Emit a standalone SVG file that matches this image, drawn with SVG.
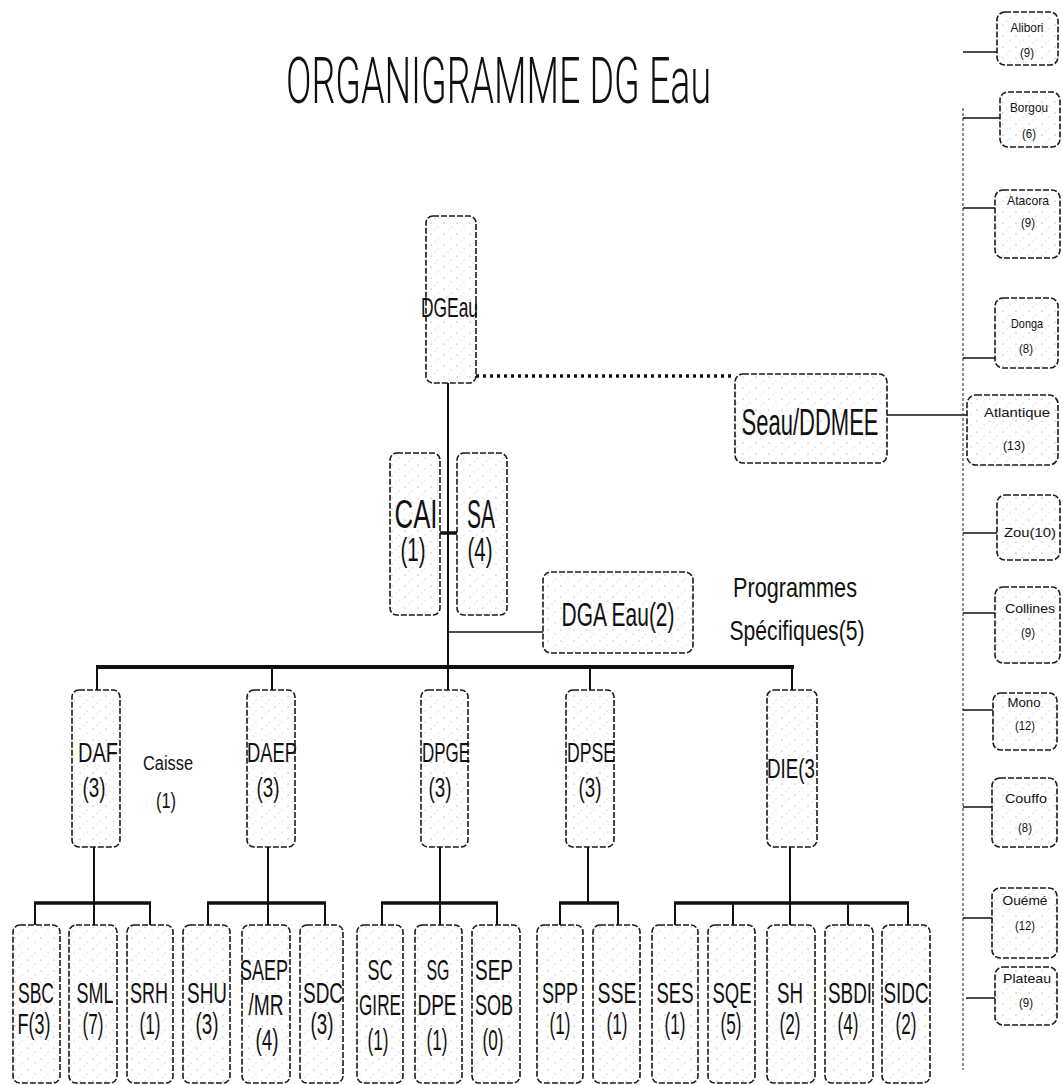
<svg xmlns="http://www.w3.org/2000/svg" width="1063" height="1085" viewBox="0 0 1063 1085">
<defs>
<pattern id="sp" width="13" height="11" patternUnits="userSpaceOnUse">
<rect width="13" height="11" fill="#fff"/>
<circle cx="2" cy="3" r="0.6" fill="#888"/>
<circle cx="9" cy="7" r="0.5" fill="#aaa"/>
<circle cx="6" cy="10" r="0.45" fill="#999"/>
</pattern>
<style>
.bx{fill:url(#sp);stroke:#1a1a1a;stroke-width:1.6;stroke-dasharray:6 2}
.t{font-family:"Liberation Sans",Arial,sans-serif;text-anchor:middle;fill:#111}
.ttl{font-family:Roboto,"Liberation Sans",Arial,sans-serif;font-weight:300;text-anchor:middle;fill:#111}
.ln{stroke:#111;stroke-width:2;fill:none}
.bus{stroke-width:4}
.sb{stroke-width:3.5}
.thin{stroke-width:1.2;stroke-dasharray:3 2;stroke:#444}
.dot{stroke:#111;stroke-width:3.5;stroke-dasharray:3 4;fill:none}
.s30{font-size:30px}
.s28{font-size:28px}
.s13{font-size:13px}
</style>
</defs>
<rect width="1063" height="1085" fill="#fff"/>
<text class="ttl" x="498.5" y="103" font-size="64" textLength="425" lengthAdjust="spacingAndGlyphs">ORGANIGRAMME DG Eau</text>

<g id="connectors">
<line class="dot" x1="476" y1="376" x2="735" y2="376"/>
<line class="ln" x1="448" y1="383" x2="448" y2="667"/>
<line class="ln sb" x1="440" y1="533" x2="457" y2="533"/>
<line class="ln" style="stroke-width:1.5" x1="448" y1="632" x2="543" y2="632"/>
<line class="ln bus" x1="96" y1="667" x2="794" y2="667"/>
<polyline class="ln" points="97,667 97,690"/>
<polyline class="ln" points="272,667 272,690"/>
<polyline class="ln" points="590,667 590,690"/>
<polyline class="ln" points="792,667 792,690"/>
<line class="ln" x1="448" y1="667" x2="448" y2="690"/>
<line class="ln" x1="94" y1="847" x2="94" y2="903"/>
<line class="ln sb" x1="34" y1="903" x2="151" y2="903"/>
<polyline class="ln" points="35,903 35,925"/><polyline class="ln" points="94,903 94,925"/><polyline class="ln" points="150,903 150,925"/>
<line class="ln" x1="268" y1="847" x2="268" y2="903"/>
<line class="ln sb" x1="207" y1="903" x2="326" y2="903"/>
<polyline class="ln" points="208,903 208,925"/><polyline class="ln" points="268,903 268,925"/><polyline class="ln" points="325,903 325,925"/>
<line class="ln" x1="440" y1="847" x2="440" y2="903"/>
<line class="ln sb" x1="381" y1="903" x2="498" y2="903"/>
<polyline class="ln" points="382,903 382,925"/><polyline class="ln" points="440,903 440,925"/><polyline class="ln" points="497,903 497,925"/>
<line class="ln" x1="588" y1="847" x2="588" y2="903"/>
<line class="ln sb" x1="559" y1="903" x2="619" y2="903"/>
<polyline class="ln" points="560,903 560,925"/><polyline class="ln" points="618,903 618,925"/>
<line class="ln" x1="790" y1="847" x2="790" y2="903"/>
<line class="ln sb" x1="674" y1="903" x2="909" y2="903"/>
<polyline class="ln" points="675,903 675,925"/><polyline class="ln" points="733,903 733,925"/><polyline class="ln" points="790,903 790,925"/><polyline class="ln" points="848,903 848,925"/><polyline class="ln" points="908,903 908,925"/>
<line class="ln" style="stroke-width:1.5" x1="887" y1="415" x2="967" y2="415"/>
<line class="thin" x1="963" y1="108" x2="963" y2="1070"/>
<line class="ln" style="stroke-width:1.5" x1="963" y1="52" x2="997" y2="52"/>
<line class="ln" style="stroke-width:1.5" x1="963" y1="118" x2="1000" y2="118"/>
<line class="ln" style="stroke-width:1.5" x1="963" y1="208" x2="995" y2="208"/>
<line class="ln" style="stroke-width:1.5" x1="963" y1="358" x2="995" y2="358"/>
<line class="ln" style="stroke-width:1.5" x1="963" y1="533" x2="997" y2="533"/>
<line class="ln" style="stroke-width:1.5" x1="963" y1="613" x2="995" y2="613"/>
<line class="ln" style="stroke-width:1.5" x1="963" y1="710" x2="993" y2="710"/>
<line class="ln" style="stroke-width:1.5" x1="963" y1="807" x2="992" y2="807"/>
<line class="ln" style="stroke-width:1.5" x1="963" y1="918" x2="992" y2="918"/>
<line class="ln" style="stroke-width:1.5" x1="966" y1="998" x2="995" y2="998"/>
</g>

<g id="DGEau"><rect class="bx" x="426" y="216" width="50" height="167" rx="7"/><text class="t s28" x="449.5" y="317" textLength="57" lengthAdjust="spacingAndGlyphs">DGEau</text></g>
<g id="SeauDDMEE"><rect class="bx" x="735" y="374" width="152" height="89" rx="8"/><text class="t" font-size="37" x="810" y="435" textLength="137" lengthAdjust="spacingAndGlyphs">Seau/DDMEE</text></g>
<g id="CAI"><rect class="bx" x="390" y="453" width="50" height="162" rx="7"/><text class="t" font-size="40" x="416" y="528" textLength="43" lengthAdjust="spacingAndGlyphs">CAI</text><text class="t" font-size="34" x="413" y="561" textLength="25" lengthAdjust="spacingAndGlyphs">(1)</text></g>
<g id="SA"><rect class="bx" x="457" y="453" width="50" height="162" rx="7"/><text class="t" font-size="40" x="481" y="528" textLength="28" lengthAdjust="spacingAndGlyphs">SA</text><text class="t" font-size="34" x="480" y="561" textLength="25" lengthAdjust="spacingAndGlyphs">(4)</text></g>
<g id="DGAEau"><rect class="bx" x="543" y="572" width="150" height="81" rx="8"/><text class="t" font-size="33" x="618" y="626" textLength="113" lengthAdjust="spacingAndGlyphs">DGA Eau(2)</text></g>
<g id="Programmes"><text class="t s28" x="795" y="597" textLength="124" lengthAdjust="spacingAndGlyphs">Programmes</text><text class="t s28" x="797" y="640" textLength="135" lengthAdjust="spacingAndGlyphs">Spécifiques(5)</text></g>

<g id="DAF"><rect class="bx" x="72" y="690" width="48" height="157" rx="7"/><text class="t s28" x="98" y="762" textLength="40" lengthAdjust="spacingAndGlyphs">DAF</text><text class="t s28" x="94" y="797" textLength="23" lengthAdjust="spacingAndGlyphs">(3)</text></g>
<g id="Caisse"><text class="t" font-size="20" x="168" y="770" textLength="50" lengthAdjust="spacingAndGlyphs">Caisse</text><text class="t" font-size="22" x="166" y="808" textLength="20" lengthAdjust="spacingAndGlyphs">(1)</text></g>
<g id="DAEP"><rect class="bx" x="247" y="690" width="48" height="157" rx="7"/><text class="t s28" x="272" y="762" textLength="50" lengthAdjust="spacingAndGlyphs">DAEP</text><text class="t s28" x="268" y="797" textLength="23" lengthAdjust="spacingAndGlyphs">(3)</text></g>
<g id="DPGE"><rect class="bx" x="421" y="690" width="47" height="157" rx="7"/><text class="t s28" x="446" y="762" textLength="48" lengthAdjust="spacingAndGlyphs">DPGE</text><text class="t s28" x="440" y="797" textLength="23" lengthAdjust="spacingAndGlyphs">(3)</text></g>
<g id="DPSE"><rect class="bx" x="566" y="690" width="48" height="157" rx="7"/><text class="t s28" x="591" y="762" textLength="48" lengthAdjust="spacingAndGlyphs">DPSE</text><text class="t s28" x="590" y="797" textLength="23" lengthAdjust="spacingAndGlyphs">(3)</text></g>
<g id="DIE"><rect class="bx" x="767" y="690" width="50" height="157" rx="7"/><text class="t s28" x="791" y="778" textLength="48" lengthAdjust="spacingAndGlyphs">DIE(3</text></g>

<g id="SBCF"><rect class="bx" x="13" y="925" width="47" height="158" rx="7"/><text class="t s30" x="36" y="1003" textLength="36" lengthAdjust="spacingAndGlyphs">SBC</text><text class="t s30" x="34" y="1034" textLength="33" lengthAdjust="spacingAndGlyphs">F(3)</text></g>
<g id="SML"><rect class="bx" x="69" y="925" width="48" height="158" rx="7"/><text class="t s30" x="95" y="1003" textLength="37" lengthAdjust="spacingAndGlyphs">SML</text><text class="t s30" x="93" y="1034" textLength="21" lengthAdjust="spacingAndGlyphs">(7)</text></g>
<g id="SRH"><rect class="bx" x="127" y="925" width="46" height="158" rx="7"/><text class="t s30" x="149" y="1003" textLength="38" lengthAdjust="spacingAndGlyphs">SRH</text><text class="t s30" x="150" y="1034" textLength="21" lengthAdjust="spacingAndGlyphs">(1)</text></g>
<g id="SHU"><rect class="bx" x="183" y="925" width="47" height="158" rx="7"/><text class="t s30" x="207" y="1003" textLength="40" lengthAdjust="spacingAndGlyphs">SHU</text><text class="t s30" x="207" y="1034" textLength="23" lengthAdjust="spacingAndGlyphs">(3)</text></g>
<g id="SAEPMR"><rect class="bx" x="242" y="925" width="48" height="158" rx="7"/><text class="t s30" x="264" y="980" textLength="48" lengthAdjust="spacingAndGlyphs">SAEP</text><text class="t s30" x="266" y="1015" textLength="35" lengthAdjust="spacingAndGlyphs">/MR</text><text class="t s30" x="267" y="1050" textLength="23" lengthAdjust="spacingAndGlyphs">(4)</text></g>
<g id="SDC"><rect class="bx" x="300" y="925" width="43" height="158" rx="7"/><text class="t s30" x="323" y="1003" textLength="40" lengthAdjust="spacingAndGlyphs">SDC</text><text class="t s30" x="322" y="1034" textLength="23" lengthAdjust="spacingAndGlyphs">(3)</text></g>
<g id="SCGIRE"><rect class="bx" x="357" y="925" width="46" height="158" rx="7"/><text class="t s30" x="380" y="980" textLength="25" lengthAdjust="spacingAndGlyphs">SC</text><text class="t s30" x="380" y="1015" textLength="42" lengthAdjust="spacingAndGlyphs">GIRE</text><text class="t s30" x="378" y="1050" textLength="21" lengthAdjust="spacingAndGlyphs">(1)</text></g>
<g id="SGDPE"><rect class="bx" x="415" y="925" width="47" height="158" rx="7"/><text class="t s30" x="438" y="980" textLength="23" lengthAdjust="spacingAndGlyphs">SG</text><text class="t s30" x="437" y="1015" textLength="39" lengthAdjust="spacingAndGlyphs">DPE</text><text class="t s30" x="437" y="1050" textLength="21" lengthAdjust="spacingAndGlyphs">(1)</text></g>
<g id="SEPSOB"><rect class="bx" x="472" y="925" width="48" height="158" rx="7"/><text class="t s30" x="494" y="980" textLength="38" lengthAdjust="spacingAndGlyphs">SEP</text><text class="t s30" x="494" y="1015" textLength="38" lengthAdjust="spacingAndGlyphs">SOB</text><text class="t s30" x="493" y="1050" textLength="21" lengthAdjust="spacingAndGlyphs">(0)</text></g>
<g id="SPP"><rect class="bx" x="537" y="925" width="46" height="158" rx="7"/><text class="t s30" x="560" y="1003" textLength="36" lengthAdjust="spacingAndGlyphs">SPP</text><text class="t s30" x="560" y="1034" textLength="21" lengthAdjust="spacingAndGlyphs">(1)</text></g>
<g id="SSE"><rect class="bx" x="593" y="925" width="47" height="158" rx="7"/><text class="t s30" x="617" y="1003" textLength="39" lengthAdjust="spacingAndGlyphs">SSE</text><text class="t s30" x="617" y="1034" textLength="21" lengthAdjust="spacingAndGlyphs">(1)</text></g>
<g id="SES"><rect class="bx" x="652" y="925" width="46" height="158" rx="7"/><text class="t s30" x="675" y="1003" textLength="37" lengthAdjust="spacingAndGlyphs">SES</text><text class="t s30" x="675" y="1034" textLength="21" lengthAdjust="spacingAndGlyphs">(1)</text></g>
<g id="SQE"><rect class="bx" x="708" y="925" width="47" height="158" rx="7"/><text class="t s30" x="732" y="1003" textLength="39" lengthAdjust="spacingAndGlyphs">SQE</text><text class="t s30" x="731" y="1034" textLength="21" lengthAdjust="spacingAndGlyphs">(5)</text></g>
<g id="SH"><rect class="bx" x="767" y="925" width="48" height="158" rx="7"/><text class="t s30" x="790" y="1003" textLength="26" lengthAdjust="spacingAndGlyphs">SH</text><text class="t s30" x="790" y="1034" textLength="21" lengthAdjust="spacingAndGlyphs">(2)</text></g>
<g id="SBDI"><rect class="bx" x="825" y="925" width="48" height="158" rx="7"/><text class="t s30" x="850" y="1003" textLength="44" lengthAdjust="spacingAndGlyphs">SBDI</text><text class="t s30" x="848" y="1034" textLength="21" lengthAdjust="spacingAndGlyphs">(4)</text></g>
<g id="SIDC"><rect class="bx" x="882" y="925" width="48" height="158" rx="7"/><text class="t s30" x="906" y="1003" textLength="45" lengthAdjust="spacingAndGlyphs">SIDC</text><text class="t s30" x="906" y="1034" textLength="21" lengthAdjust="spacingAndGlyphs">(2)</text></g>

<g id="Alibori"><rect class="bx" x="997" y="12" width="61" height="53" rx="8"/><text class="t s13" x="1027" y="32" textLength="33" lengthAdjust="spacingAndGlyphs">Alibori</text><text class="t s13" x="1027" y="57" textLength="14" lengthAdjust="spacingAndGlyphs">(9)</text></g>
<g id="Borgou"><rect class="bx" x="1000" y="92" width="60" height="55" rx="8"/><text class="t s13" x="1029" y="112" textLength="38" lengthAdjust="spacingAndGlyphs">Borgou</text><text class="t s13" x="1029" y="138" textLength="14" lengthAdjust="spacingAndGlyphs">(6)</text></g>
<g id="Atacora"><rect class="bx" x="995" y="190" width="65" height="68" rx="8"/><text class="t s13" x="1028" y="205" textLength="42" lengthAdjust="spacingAndGlyphs">Atacora</text><text class="t s13" x="1028" y="227" textLength="14" lengthAdjust="spacingAndGlyphs">(9)</text></g>
<g id="Donga"><rect class="bx" x="995" y="298" width="63" height="70" rx="8"/><text class="t s13" x="1027" y="328" textLength="32" lengthAdjust="spacingAndGlyphs">Donga</text><text class="t s13" x="1026" y="353" textLength="14" lengthAdjust="spacingAndGlyphs">(8)</text></g>
<g id="Atlantique"><rect class="bx" x="967" y="395" width="91" height="70" rx="9"/><text class="t s13" x="1017" y="417" textLength="66" lengthAdjust="spacingAndGlyphs">Atlantique</text><text class="t s13" x="1014" y="450" textLength="22" lengthAdjust="spacingAndGlyphs">(13)</text></g>
<g id="Zou"><rect class="bx" x="997" y="495" width="63" height="65" rx="8"/><text class="t s13" x="1030" y="537" textLength="52" lengthAdjust="spacingAndGlyphs">Zou(10)</text></g>
<g id="Collines"><rect class="bx" x="995" y="587" width="65" height="76" rx="8"/><text class="t s13" x="1030" y="613" textLength="50" lengthAdjust="spacingAndGlyphs">Collines</text><text class="t s13" x="1028" y="637" textLength="14" lengthAdjust="spacingAndGlyphs">(9)</text></g>
<g id="Mono"><rect class="bx" x="993" y="693" width="64" height="57" rx="8"/><text class="t s13" x="1024" y="707" textLength="33" lengthAdjust="spacingAndGlyphs">Mono</text><text class="t s13" x="1025" y="730" textLength="20" lengthAdjust="spacingAndGlyphs">(12)</text></g>
<g id="Couffo"><rect class="bx" x="992" y="778" width="65" height="69" rx="8"/><text class="t s13" x="1026" y="803" textLength="42" lengthAdjust="spacingAndGlyphs">Couffo</text><text class="t s13" x="1025" y="832" textLength="14" lengthAdjust="spacingAndGlyphs">(8)</text></g>
<g id="Oueme"><rect class="bx" x="992" y="888" width="65" height="70" rx="8"/><text class="t s13" x="1025" y="905" textLength="45" lengthAdjust="spacingAndGlyphs">Ouémé</text><text class="t s13" x="1025" y="930" textLength="20" lengthAdjust="spacingAndGlyphs">(12)</text></g>
<g id="Plateau"><rect class="bx" x="995" y="967" width="62" height="58" rx="8"/><text class="t s13" x="1027" y="983" textLength="48" lengthAdjust="spacingAndGlyphs">Plateau</text><text class="t s13" x="1026" y="1007" textLength="14" lengthAdjust="spacingAndGlyphs">(9)</text></g>
</svg>
